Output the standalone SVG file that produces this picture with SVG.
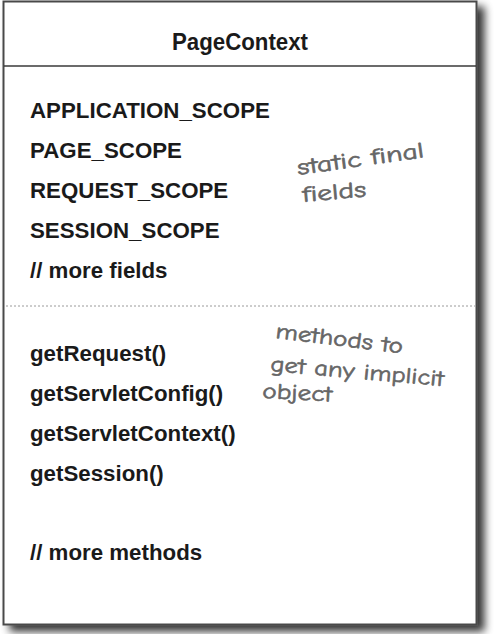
<svg xmlns="http://www.w3.org/2000/svg" width="495" height="634" viewBox="0 0 495 634">
<defs>
<filter id="sh" x="-5%" y="-5%" width="115%" height="115%">
<feGaussianBlur in="SourceAlpha" stdDeviation="4"/>
<feOffset dx="7" dy="6" result="b"/>
<feComponentTransfer><feFuncA type="linear" slope="0.8"/></feComponentTransfer>
<feMerge><feMergeNode/><feMergeNode in="SourceGraphic"/></feMerge>
</filter>
<style>
.t{font-family:"Liberation Sans",Arial,sans-serif;font-weight:bold;font-size:23px;fill:#1a1a1a}
.h{font-family:"Comic Neue","DejaVu Sans","Liberation Sans",sans-serif;font-size:22px;fill:#666666;stroke:#666666;stroke-width:0.6}
</style>
</defs>
<rect width="495" height="634" fill="#ffffff"/>
<g id="class-PageContext">
<rect x="3.5" y="1.5" width="473" height="623" fill="#ffffff" stroke="#4a4a4a" stroke-width="2" filter="url(#sh)"/>
<line x1="4" y1="66" x2="476" y2="66" stroke="#3a3a3a" stroke-width="1.5"/>
<line x1="6" y1="306" x2="475" y2="306" stroke="#9a9a9a" stroke-width="1" stroke-dasharray="2,2"/>
<text class="t" x="240" y="50" text-anchor="middle" textLength="136" lengthAdjust="spacingAndGlyphs">PageContext</text>
<g transform="translate(30,0) scale(0.97,1)">
<text class="t" x="0" y="118">APPLICATION_SCOPE</text>
<text class="t" x="0" y="158">PAGE_SCOPE</text>
<text class="t" x="0" y="198">REQUEST_SCOPE</text>
<text class="t" x="0" y="238">SESSION_SCOPE</text>
<text class="t" x="0" y="278">// more fields</text>
<text class="t" x="0" y="361">getRequest()</text>
<text class="t" x="0" y="401">getServletConfig()</text>
<text class="t" x="0" y="441">getServletContext()</text>
<text class="t" x="0" y="481">getSession()</text>
<text class="t" x="0" y="560">// more methods</text>
</g>
</g>
<g id="note-fields">
<text class="h" x="298" y="175" transform="rotate(-8 298 175)" textLength="128" lengthAdjust="spacingAndGlyphs">static final</text>
<text class="h" x="303" y="202" transform="rotate(-5 303 202)" textLength="64" lengthAdjust="spacingAndGlyphs">fields</text>
</g>
<g id="note-methods">
<text class="h" x="275" y="338" transform="rotate(7 275 338)" textLength="128" lengthAdjust="spacingAndGlyphs">methods to</text>
<text class="h" x="270" y="371" transform="rotate(5 270 371)" textLength="174" lengthAdjust="spacingAndGlyphs">get any implicit</text>
<text class="h" x="262" y="398" transform="rotate(3 262 398)" textLength="70" lengthAdjust="spacingAndGlyphs">object</text>
</g>
<g id="connectors"></g>
</svg>
